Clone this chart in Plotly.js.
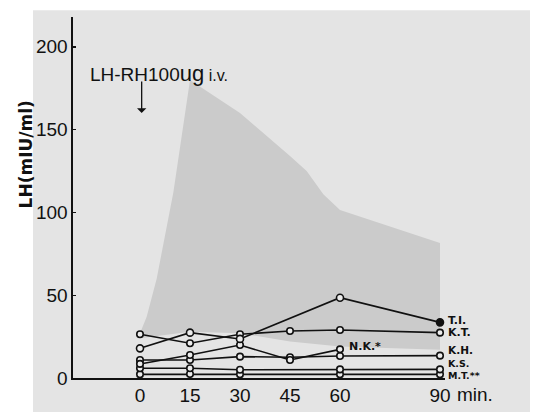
<!DOCTYPE html>
<html>
<head>
<meta charset="utf-8">
<script src="https://cdn.plot.ly/plotly-3.0.1.min.js"></script>
<style>html,body{margin:0;padding:0;background:#fff}#chart{width:541px;height:412px}</style>
</head>
<body>
<div id="chart"></div>
<script>
// time points (min)
const times = [0, 15, 30, 45, 60, 90];
const timeLabels = ["0", "15", "30", "45", "60", "90"];

// individual LH responses (mIU/ml)
const tiX = [0, 15, 30, 60, 90];
const tiY = [17.9, 27.4, 23.6, 48.5, 33.6];
const ktX = [0, 15, 30, 45, 60, 90];
const ktY = [26.4, 21.0, 26.4, 28.4, 29.0, 27.4];
const nkX = [0, 15, 30, 45, 60];
const nkY = [8.5, 13.9, 19.9, 10.9, 17.3];
const khX = [0, 15, 30, 45, 60, 90];
const khY = [10.9, 10.9, 12.9, 12.5, 13.3, 13.5];
const ksX = [0, 15, 30, 60, 90];
const ksY = [5.9, 5.9, 5.0, 5.2, 5.2];
const mtX = [0, 15, 30, 60, 90];
const mtY = [2.2, 2.4, 2.2, 2.2, 2.2];

// normal range band
const bandUpperX = [0, 2, 5, 10, 15, 30, 45, 50, 55, 60, 90];
const bandUpperY = [27, 37, 60, 112, 180, 160, 134, 125, 111, 101.5, 81.5];
const bandLowerX = [0, 15, 30, 45, 60, 90];
const bandLowerY = [24, 28, 27, 22, 19, 17];

const seriesNames = ["T.I.", "K.T.", "N.K.*", "K.H.", "K.S.", "M.T.**"];
const yTicks = [0, 50, 100, 150, 200];

const bandX = bandUpperX.concat(bandLowerX.slice().reverse());
const bandY = bandUpperY.concat(bandLowerY.slice().reverse());

const lineStyle = {color: '#111', width: 1.6};
function openMarker() {
  return {symbol: 'circle', size: 6.5, color: '#ececec', line: {color: '#111', width: 1.6}};
}
const traces = [
  {x: bandX, y: bandY, type: 'scatter', mode: 'lines', fill: 'toself',
   line: {width: 0, color: 'rgba(0,0,0,0)'},
   fillcolor: '#d3d3d3',
   fillpattern: {shape: '.', fgcolor: '#b4b4b4', bgcolor: '#dddddd', size: 2, solidity: 0.5},
   hoverinfo: 'skip', showlegend: false},
  {x: mtX, y: mtY, name: seriesNames[5], type: 'scatter', mode: 'lines+markers', line: lineStyle, marker: openMarker()},
  {x: ksX, y: ksY, name: seriesNames[4], type: 'scatter', mode: 'lines+markers', line: lineStyle, marker: openMarker()},
  {x: khX, y: khY, name: seriesNames[3], type: 'scatter', mode: 'lines+markers', line: lineStyle, marker: openMarker()},
  {x: nkX, y: nkY, name: seriesNames[2], type: 'scatter', mode: 'lines+markers', line: lineStyle, marker: openMarker()},
  {x: ktX, y: ktY, name: seriesNames[1], type: 'scatter', mode: 'lines+markers', line: lineStyle, marker: openMarker()},
  {x: tiX, y: tiY, name: seriesNames[0], type: 'scatter', mode: 'lines+markers', line: lineStyle,
   marker: {symbol: 'circle', size: 7, color: tiX.map((v, i) => i === tiX.length - 1 ? '#111' : '#ececec'),
            line: {color: '#111', width: 1.6}}}
];

function lblFont(size) {
  return {family: 'DejaVu Sans, sans-serif', size: size, color: '#111', weight: 'bold'};
}
function endLabel(text, xData, yData, size) {
  return {text: text, x: xData, y: yData, xref: 'x', yref: 'y', showarrow: false,
          xanchor: 'left', yanchor: 'middle', font: lblFont(size)};
}
function endLabelPaper(text, xPaper, yData, size) {
  return {text: text, x: xPaper, y: yData, xref: 'paper', yref: 'y', showarrow: false,
          xanchor: 'left', yanchor: 'middle', font: lblFont(size)};
}

const layout = {
  width: 541, height: 412,
  margin: {l: 73, r: 96, t: 17, b: 34},
  paper_bgcolor: '#ffffff',
  plot_bgcolor: 'rgba(0,0,0,0)',
  showlegend: false,
  font: {family: 'Liberation Sans, Arial, sans-serif', color: '#111'},
  xaxis: {
    range: [-20.1, 91.5], showgrid: false, zeroline: false,
    showline: true, linecolor: '#111', linewidth: 1.6,
    tickvals: times, ticktext: timeLabels, ticks: '',
    tickfont: {size: 19, family: 'Liberation Sans, Arial, sans-serif', color: '#111'}
  },
  yaxis: {
    range: [0, 218], showgrid: false, zeroline: false,
    showline: true, linecolor: '#111', linewidth: 1.6,
    tickvals: yTicks, ticks: 'inside', ticklen: 3, tickcolor: '#111', tickwidth: 1.4,
    tickfont: {size: 19, family: 'Liberation Sans, Arial, sans-serif', color: '#111'}
  },
  shapes: [
    {type: 'rect', xref: 'paper', yref: 'paper', x0: -0.1075, x1: 1.2285, y0: -0.1, y1: 1.019,
     fillcolor: '#e4e4e4', line: {width: 0}, layer: 'below'}
  ],
  annotations: [
    {text: 'LH(mIU/ml)', xref: 'paper', yref: 'paper', x: -0.158, y: 0.62, textangle: -90,
     showarrow: false, font: {family: 'DejaVu Sans, sans-serif', size: 17, color: '#111', weight: 600}},
    {text: 'LH-RH100<span style="font-size:22px">ug</span><span style="font-size:16px"> i.v.</span>',
     xref: 'x', yref: 'y', x: -15.6, y: 184, xanchor: 'left', yanchor: 'middle', showarrow: false,
     font: {family: 'Liberation Sans, Arial, sans-serif', size: 19, color: '#111'}},
    {text: '', xref: 'x', yref: 'y', x: 0.5, y: 160, ax: 0.5, ay: 180, axref: 'x', ayref: 'y',
     showarrow: true, arrowhead: 1, arrowsize: 1.2, arrowwidth: 1.3, arrowcolor: '#111'},
    {text: 'min.', xref: 'paper', yref: 'paper', x: 1.027, y: -0.046, xanchor: 'left', yanchor: 'middle', showarrow: false,
     font: {family: 'Liberation Sans, Arial, sans-serif', size: 19, color: '#111'}},
    endLabelPaper(seriesNames[0], 1.004, 34.5, 11),
    endLabelPaper(seriesNames[1], 1.004, 27.4, 11),
    endLabel(seriesNames[2], 62, 19, 11),
    endLabelPaper(seriesNames[3], 1.004, 16.8, 10.5),
    endLabelPaper(seriesNames[4], 1.004, 8.8, 9.5),
    endLabelPaper(seriesNames[5], 1.004, 1.6, 9.5)
  ]
};

Plotly.newPlot('chart', traces, layout, {displayModeBar: false, staticPlot: true});
</script>
</body>
</html>
